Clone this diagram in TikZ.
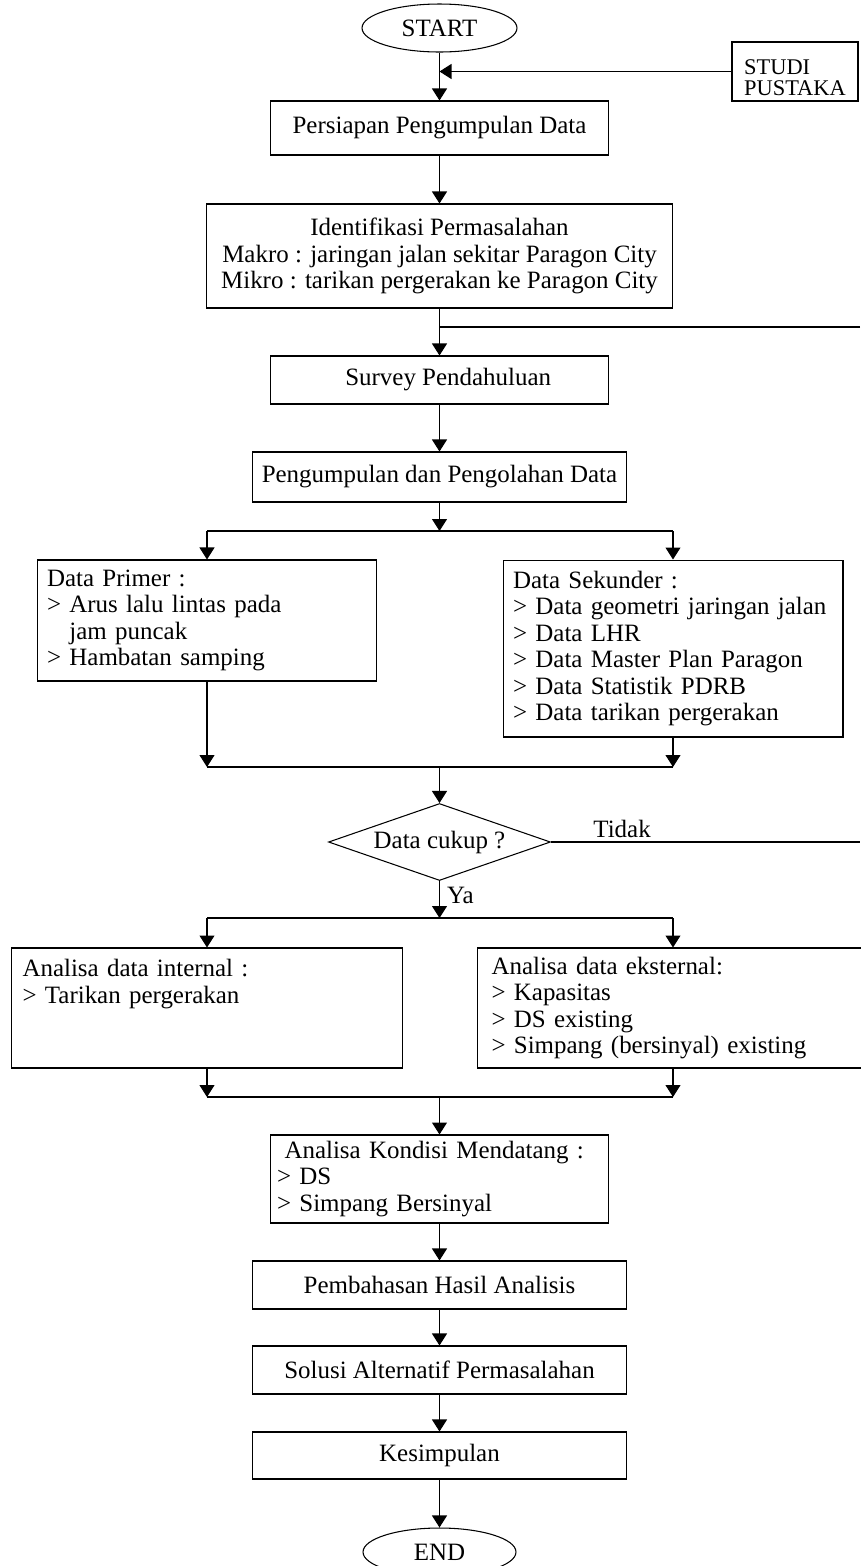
\documentclass[tikz,border=0pt]{standalone}
\usepackage{fontspec}
\setmainfont{Liberation Serif}
\usepackage{tikz}
\usetikzlibrary{shapes.geometric, arrows.meta, positioning}

\begin{document}
\begin{tikzpicture}
		[   x=0.02cm, y=-0.02cm, line width=0.6pt,
		    font=\fontsize{14.2}{15.1}\selectfont,
		    box/.style={draw=black,rectangle,inner sep=0pt,align=center,minimum width=#1},
		    listbox/.style={draw=black,rectangle,inner ysep=0pt,inner xsep=0.2cm,align=left,text width=#1},
		    ends/.style={draw=black,ellipse,inner sep=0pt,minimum width=3.1cm,minimum height=0.96cm},
		]
		\tikzset{normal arrow/.style={draw,-{Triangle[width=0.3cm,length=0.24cm]}}}
		\useasboundingbox (0,0) rectangle (860,1566);
		
		\node[ends] (mulai) at (439.5,28) {START};
		\node[box=2.52cm, minimum height=1.18cm] (studi) at (795,71.5) {};
		\node[align=left, inner sep=0pt, font=\fontsize{12.75}{12}\selectfont] (lblstudi) at (795,78) {STUDI\\PUSTAKA};
		
		\node[box=6.78cm, minimum height=1.08cm] (siap) at (439.5,128) {Persiapan Pengumpulan Data};
		\node[box=9.32cm, minimum height=2.08cm] (identifikasi) at (439.5,256) {Identifikasi Permasalahan\\Makro : jaringan jalan sekitar Paragon City\\Mikro : tarikan pergerakan ke Paragon City};
		\node[box=6.78cm, minimum height=0.96cm] (survey) at (439.5,380) {\hspace*{0.7em}Survey Pendahuluan};
		\node[box=7.48cm, minimum height=1.0cm] (olah) at (439.5,477) {Pengumpulan dan Pengolahan Data};
		
		% data primer dan sekunder
		\node[listbox=6.4cm, minimum height=2.42cm] (primer) at (207,620.5) {Data Primer :\\> Arus lalu lintas pada\\\hspace*{0.9em}jam puncak\\> Hambatan samping};
		\node[listbox=6.4cm, minimum height=3.54cm] (sekunder) at (673,648.5) {Data Sekunder :\\> Data geometri jaringan jalan\\> Data LHR\\> Data Master Plan Paragon\\> Data Statistik PDRB\\> Data tarikan pergerakan};
		
		\node[diamond, aspect=2.9, draw=black, inner sep=0pt, minimum width=4.44cm, minimum height=1.54cm] (cukup) at (439.5,842) {Data cukup ?};
		
		% analisa
		\node[listbox=7.38cm, inner xsep=0.22cm, minimum height=2.4cm] (internal) at (207,1008) {Analisa data internal :\\> Tarikan pergerakan\\\mbox{}\\\mbox{}};
		\node[listbox=7.26cm, inner xsep=0.28cm, minimum height=2.4cm] (eksternal) at (673,1008) {Analisa data eksternal:\\> Kapasitas\\> DS existing\\> Simpang (bersinyal) existing};
		
		\node[listbox=6.5cm, inner xsep=0.14cm, minimum height=1.76cm] (kondisi) at (439.5,1179) {\hspace*{0.3em}Analisa Kondisi Mendatang :\\> DS\\> Simpang Bersinyal};
		\node[box=7.48cm, minimum height=0.96cm] (bahas) at (439.5,1285) {Pembahasan Hasil Analisis};
		\node[box=7.48cm, minimum height=0.96cm] (solusi) at (439.5,1370) {Solusi Alternatif Permasalahan};
		\node[box=7.48cm, minimum height=0.94cm] (simpul) at (439.5,1455.5) {Kesimpulan};
		\node[ends, minimum width=3.06cm] (selesai) at (439.5,1552) {END};
		
		\coordinate (ulang) at (860,327);
		\coordinate (tidak) at (860,842);
		\coordinate (bagi1) at (439.5,531);
		\coordinate (gabung1) at (439.5,767);
		\coordinate (bagi2) at (439.5,918);
		\coordinate (gabung2) at (439.5,1097);
		
		\path[normal arrow] (mulai) -- (siap);
		\path[normal arrow] (studi) -- (studi -| mulai);
		\path[normal arrow] (siap) -- (identifikasi);
		\path[normal arrow] (identifikasi) -- (survey);
		\draw (ulang) -- (ulang -| identifikasi.south);
		\path[normal arrow] (survey) -- (olah);
		
		\path[normal arrow] (olah) -- (bagi1);
		\draw (bagi1 -| primer) -- (bagi1 -| sekunder);
		\draw (gabung1 -| primer) -- (gabung1 -| sekunder);
		\foreach \x in {primer,sekunder}
		{
			\path[normal arrow] (bagi1 -| \x) -- (\x);
			\path[normal arrow] (\x) -- (gabung1 -| \x);
		}
		\path[normal arrow] (gabung1) -- (cukup);
		
		\path[draw] (cukup.east) -- node[above, pos=0.23, inner sep=2pt] (lbltidak) {Tidak} (tidak);
		\path[normal arrow] (cukup.south) -- node[right, pos=0.4, inner sep=0.14cm] (lblya) {Ya} (bagi2);
		
		\draw (bagi2 -| internal) -- (bagi2 -| eksternal);
		\draw (gabung2 -| internal) -- (gabung2 -| eksternal);
		\foreach \x in {internal,eksternal}
		{
			\path[normal arrow] (bagi2 -| \x) -- (\x);
			\path[normal arrow] (\x) -- (gabung2 -| \x);
		}
		\path[normal arrow] (gabung2) -- (kondisi);
		
		\foreach \a/\b in {kondisi/bahas,bahas/solusi,solusi/simpul,simpul/selesai}
		{
			\path[normal arrow] (\a) -- (\b);
		}
\end{tikzpicture}
\end{document}
